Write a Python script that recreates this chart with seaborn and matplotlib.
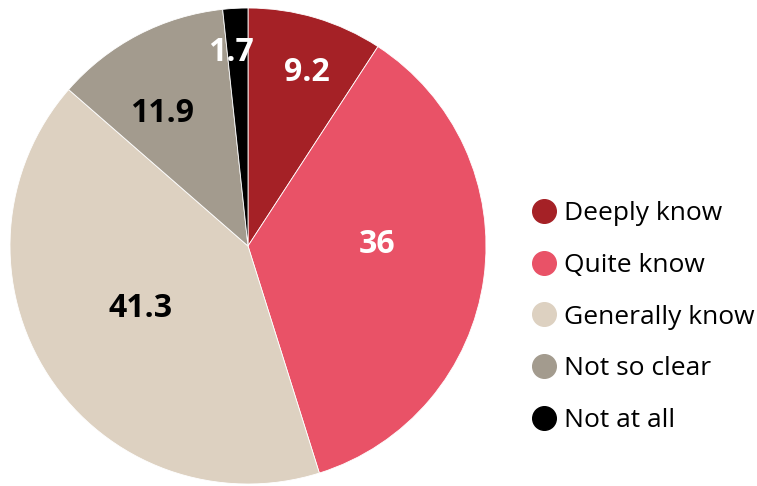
import numpy as np
import matplotlib
matplotlib.use("Agg")
import matplotlib.pyplot as plt
from matplotlib.lines import Line2D
import seaborn as sns

categories = ["Deeply know", "Quite know", "Generally know", "Not so clear", "Not at all"]
values = [9.2, 36, 41.3, 11.9, 1.7]
labels = ["9.2", "36", "41.3", "11.9", "1.7"]
colors = ["#A52126", "#E95267", "#DDD1C1", "#A39B8E", "#000000"]
label_colors = ["white", "white", "black", "black", "white"]
# label placement: fraction of radius and angle shift (deg) from the wedge middle
label_radius = [0.769, 0.543, 0.523, 0.663, 0.818]
label_shift = [-2.3, 8.4, -2.9, 5.3, 1.9]

sns.set_theme(style="white")
plt.rcParams["font.family"] = ["Open Sans", "DejaVu Sans"]
plt.rcParams["text.color"] = "black"

fig = plt.figure(figsize=(7.57, 4.86), dpi=100)
ax = fig.add_axes([10 / 757, 2 / 486, 476 / 757, 476 / 486])

wedges, _ = ax.pie(values, colors=colors, startangle=90, counterclock=False,
                   radius=1, wedgeprops=dict(edgecolor="white", linewidth=0.6))
ax.set_xlim(-1, 1)
ax.set_ylim(-1, 1)
ax.set_aspect("equal")

for w, lab, c, r, s in zip(wedges, labels, label_colors, label_radius, label_shift):
    mid = np.deg2rad((w.theta1 + w.theta2) / 2 + s)
    ax.text(r * np.cos(mid), r * np.sin(mid), lab, ha="center", va="center",
            fontsize=23, fontweight="bold", color=c)

handles = [Line2D([], [], marker="o", linestyle="", markersize=17,
                  markerfacecolor=c, markeredgecolor=c) for c in colors]
fig.legend(handles, categories, loc="center left", bbox_to_anchor=(531 / 757, 1 - 317 / 486),
           frameon=False, fontsize=19, labelspacing=1.01, handletextpad=0.25,
           handlelength=1.0, borderaxespad=0, borderpad=0, labelcolor="black")

fig.savefig("out.png", dpi=100)
